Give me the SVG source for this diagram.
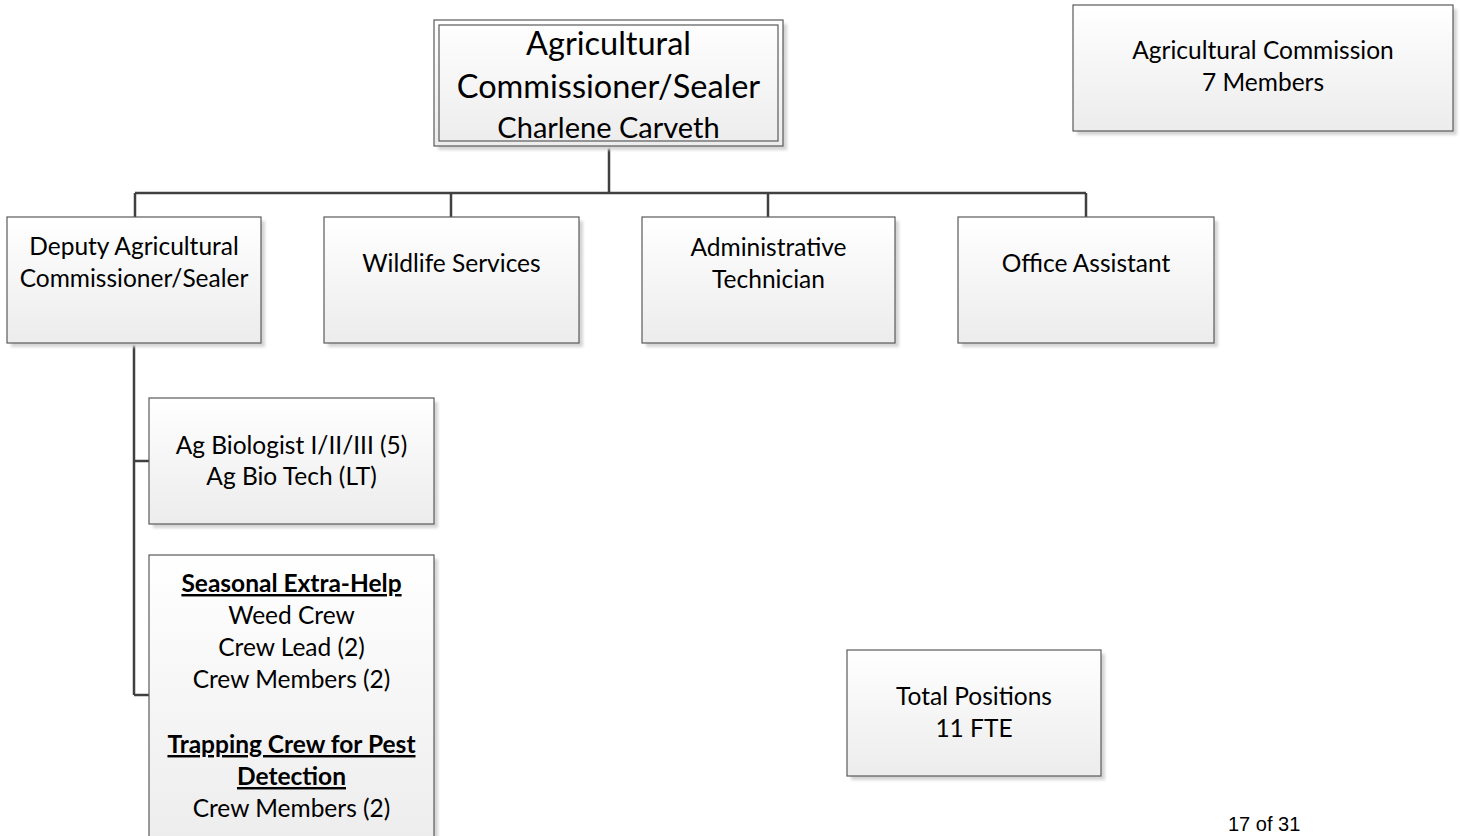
<svg xmlns="http://www.w3.org/2000/svg" width="1460" height="836" viewBox="0 0 1460 836">
<defs>
<linearGradient id="g" x1="0" y1="0" x2="0" y2="1">
<stop offset="0" stop-color="#ffffff"/>
<stop offset="1" stop-color="#ececec"/>
</linearGradient>
<filter id="sh" x="-10%" y="-10%" width="130%" height="130%">
<feGaussianBlur stdDeviation="1.5"/>
</filter>
</defs>
<style>
.shadow{fill:#d4d4d4;filter:url(#sh)}
.box{fill:url(#g);stroke:#5a5a5a;stroke-width:1.2}
.inner{fill:none;stroke:#5a5a5a;stroke-width:1.2}
.t{font-family:Lato,"Liberation Sans",sans-serif;fill:#000;text-anchor:middle;font-size:24.5px}
.b{font-weight:bold;text-decoration:underline}
.big{font-size:32.5px}
.mid{font-size:29px}
.conn{fill:none;stroke:#404040;stroke-width:2.5}
.pg{font-family:"Liberation Sans",Arial,sans-serif;font-size:20px;fill:#000}
</style>
<rect width="1460" height="836" fill="#fff"/>
<g id="connectors">
<path class="conn" d="M609 146V193M135 193H1086M135 193V217M451 193V217M768 193V217M1086 193V217"/>
<path class="conn" d="M134 343V695M134 461H149M134 695H149"/>
</g>
<g id="commissioner">
<rect class="shadow" x="438" y="24" width="349" height="126"/>
<rect class="box" x="434" y="20" width="349" height="126"/>
<rect class="inner" x="439" y="25" width="339" height="116"/>
<text class="t big" x="608.5" y="55">Agricultural</text>
<text class="t big" x="608.5" y="98">Commissioner/Sealer</text>
<text class="t mid" x="608.5" y="138">Charlene Carveth</text>
</g>
<g id="ag-commission">
<rect class="shadow" x="1077" y="9" width="380" height="126"/>
<rect class="box" x="1073" y="5" width="380" height="126"/>
<text class="t" x="1263" y="59">Agricultural Commission</text>
<text class="t" x="1263" y="91">7 Members</text>
</g>
<g id="deputy">
<rect class="shadow" x="11" y="221" width="254" height="126"/>
<rect class="box" x="7" y="217" width="254" height="126"/>
<text class="t" x="134" y="255">Deputy Agricultural</text>
<text class="t" x="134" y="287">Commissioner/Sealer</text>
</g>
<g id="wildlife">
<rect class="shadow" x="328" y="221" width="255" height="126"/>
<rect class="box" x="324" y="217" width="255" height="126"/>
<text class="t" x="451.5" y="272">Wildlife Services</text>
</g>
<g id="admin">
<rect class="shadow" x="646" y="221" width="253" height="126"/>
<rect class="box" x="642" y="217" width="253" height="126"/>
<text class="t" x="768.5" y="256">Administrative</text>
<text class="t" x="768.5" y="288">Technician</text>
</g>
<g id="office">
<rect class="shadow" x="962" y="221" width="256" height="126"/>
<rect class="box" x="958" y="217" width="256" height="126"/>
<text class="t" x="1086" y="272">Office Assistant</text>
</g>
<g id="ag-bio">
<rect class="shadow" x="153" y="402" width="285" height="126"/>
<rect class="box" x="149" y="398" width="285" height="126"/>
<text class="t" x="291.5" y="454">Ag Biologist I/II/III (5)</text>
<text class="t" x="291.5" y="485">Ag Bio Tech (LT)</text>
</g>
<g id="seasonal">
<rect class="shadow" x="153" y="559" width="285" height="300"/>
<rect class="box" x="149" y="555" width="285" height="300"/>
<text class="t b" x="291.5" y="592">Seasonal Extra-Help</text>
<text class="t" x="291.5" y="624">Weed Crew</text>
<text class="t" x="291.5" y="656">Crew Lead (2)</text>
<text class="t" x="291.5" y="688">Crew Members (2)</text>
<text class="t b" x="291.5" y="753">Trapping Crew for Pest</text>
<text class="t b" x="291.5" y="785">Detection</text>
<text class="t" x="291.5" y="817">Crew Members (2)</text>
</g>
<g id="total">
<rect class="shadow" x="851" y="654" width="254" height="126"/>
<rect class="box" x="847" y="650" width="254" height="126"/>
<text class="t" x="974" y="705">Total Positions</text>
<text class="t" x="974" y="737">11 FTE</text>
</g>
<text class="pg" x="1228" y="831">17 of 31</text>
</svg>
